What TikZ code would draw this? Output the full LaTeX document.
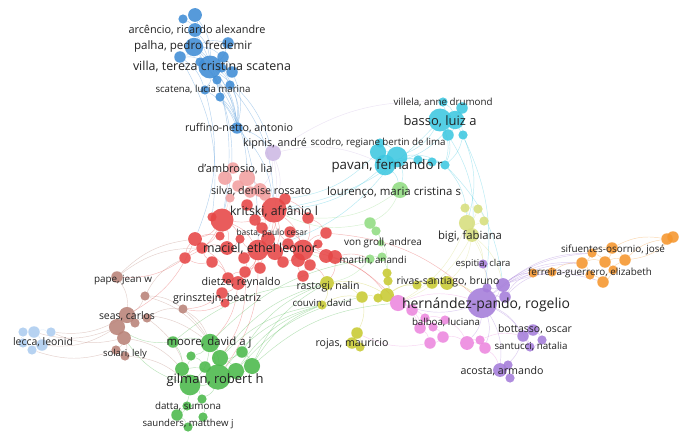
\documentclass[tikz,border=0pt]{standalone}
\usepackage{fontspec}
\setmainfont{Open Sans}
\pgfdeclarelayer{bg}
\pgfdeclarelayer{edges}
\pgfsetlayers{bg,edges,main}
\definecolor{cblue}{RGB}{63,141,214}
\definecolor{ckip}{RGB}{205,185,228}
\definecolor{ccyan}{RGB}{62,200,225}
\definecolor{clgreen}{RGB}{145,220,130}
\definecolor{cred}{RGB}{230,70,70}
\definecolor{csalmon}{RGB}{242,160,160}
\definecolor{cbrown}{RGB}{185,130,120}
\definecolor{clblue}{RGB}{172,204,240}
\definecolor{cgreen}{RGB}{75,185,75}
\definecolor{clyellow}{RGB}{215,222,125}
\definecolor{colive}{RGB}{200,202,50}
\definecolor{cpurple}{RGB}{165,125,218}
\definecolor{cpink}{RGB}{236,135,222}
\definecolor{corange}{RGB}{245,150,45}
\definecolor{ctext}{RGB}{35,35,35}
\tikzset{
  vn/.style={circle,draw=none,inner sep=0pt,fill opacity=0.88},
  edge/.style={line width=0.45pt,draw opacity=0.38},
  labtext/.style={text=ctext,inner sep=0pt,anchor=center}
}
\newsavebox\labbox
\newcommand\fitlab[2]{%
  \sbox\labbox{\fontsize{10}{12}\selectfont #2}%
  \pgfmathsetmacro\labfs{10*#1/\the\wd\labbox}%
  \fontsize{\labfs}{\labfs}\selectfont #2}
\newcommand\vlab[5]{%
  \node[labtext] (#1) at (#2,#3) {\fitlab{#4}{#5}};}
\begin{document}
\begin{tikzpicture}[x=1pt,y=-1pt]
\begin{pgfonlayer}{bg}
\fill[white] (0,0) rectangle (685,441);
\end{pgfonlayer}
\useasboundingbox (0,0) rectangle (685,441);
% ---------- nodes ----------
\foreach \n/\x/\y/\r in {b1/195/15/6,b2/183/19/4,b3/195/30/6,b4/194/47/8,b5/228/43/5,b6/180/57/5,b7/223/57/5,b8/210/67/10,b9/232/72/5,b10/217/80/4,b11/230/85/4,b12/205/90/4,b13/220/97/4,b14/237/128/5,b15/200/62/4,b16/222/68/4}
  \node[vn,fill=cblue,minimum size={2.3pt*\r}] (\n) at (\x,\y) {};
\node[vn,fill=ckip,minimum size=16pt] (k1) at (273,153) {};
\foreach \n/\x/\y/\r in {c1/443/102/4,c2/462/108/5,c3/440/120/10,c4/455/120/8,c5/448/135/5,c6/463/135/4,c7/378/152/7,c8/397/157/9,c9/385/165/9,c10/418/160/4,c11/432/162/4,c12/445/165/4,c13/380/143/4}
  \node[vn,fill=ccyan,minimum size={2.3pt*\r}] (\n) at (\x,\y) {};
\foreach \n/\x/\y/\r in {lg1/400/190/7,lg2/370/223/5,lg3/376/231/4,lg4/370/259/4,lg5/382/257/4,lg6/381/243/3}
  \node[vn,fill=clgreen,minimum size={2.3pt*\r}] (\n) at (\x,\y) {};
\foreach \n/\x/\y/\r in {s1/233/168/5,s2/247/178/7,s3/225/178/6,s4/238/186/5,s5/260/190/6,s6/230/198/4,s7/265/195/5,s8/250/192/5}
  \node[vn,fill=csalmon,minimum size={2.3pt*\r}] (\n) at (\x,\y) {};
\foreach \n/\x/\y/\r in {r1/274/210/11,r2/222/220/10,r3/247/205/5,r4/285/199/5,r5/212/217/4,r6/255/220/5,r7/308/218/5,r8/220/236/4,r9/240/239/4,r10/195/239/6,r11/268/239/6,r12/326/233/5,r13/202/248/5,r14/258/250/9,r15/275/252/7,r16/303/250/9,r17/185/258/5,r18/227/248/6,r19/283/262/5,r20/298/260/6,r21/310/265/5,r22/326/256/6,r23/335/257/6,r24/245/272/5,r25/260/268/5,r26/303/276/5,r27/228/278/5,r28/238/283/6,r29/222/293/5,r30/225/303/4,r32/290/232/5,r33/262/228/5,r34/212/262/5,r35/288/244/5,r36/244/258/5,r37/318/244/4}
  \node[vn,fill=cred,minimum size={2.3pt*\r}] (\n) at (\x,\y) {};
\foreach \n/\x/\y/\r in {br1/117/277/5,br2/145/296/4,br3/183/309/4,br4/127/315/7,br5/117/327/7,br6/135/323/4,br7/147/318/4,br8/124/338/6,br9/125/356/4,br10/116/350/4}
  \node[vn,fill=cbrown,minimum size={2.3pt*\r}] (\n) at (\x,\y) {};
\foreach \n/\x/\y/\r in {lb1/23/332/4,lb2/34/332/5,lb3/51/332/4,lb4/32/350/4,lb5/42/345/5,lb6/23/343/4}
  \node[vn,fill=clblue,minimum size={2.3pt*\r}] (\n) at (\x,\y) {};
\foreach \n/\x/\y/\r in {gr1/173/342/5,gr2/210/343/8,gr3/191/356/4,gr4/220/358/7,gr5/242/352/5,gr6/205/367/5,gr7/182/369/6,gr8/236/371/7,gr9/252/366/7,gr10/218/377/11,gr11/190/385/9,gr12/202/399/4,gr13/187/406/4,gr14/177/415/5,gr15/203/417/4,gr16/188/427/4}
  \node[vn,fill=cgreen,minimum size={2.3pt*\r}] (\n) at (\x,\y) {};
\foreach \n/\x/\y/\r in {ly1/465/208/4,ly2/478/209/4,ly3/484/221/4,ly4/467/223/7,ly5/472/235/6}
  \node[vn,fill=clyellow,minimum size={2.3pt*\r}] (\n) at (\x,\y) {};
\foreach \n/\x/\y/\r in {o1/387/273/4,o2/388/281/4,o3/327/283/6,o4/362/297/5,o5/378/298/4,o6/387/295/6,o7/417/285/4,o8/432/283/5,o9/447/283/6,o10/322/305/4,o11/357/333/5,o12/352/343/5,o13/360/347/4}
  \node[vn,fill=colive,minimum size={2.3pt*\r}] (\n) at (\x,\y) {};
\foreach \n/\x/\y/\r in {m1/398/303/7,m2/412/310/5,m3/420/328/5,m4/433/327/4,m5/445/320/4,m6/443/337/5,m7/430/343/5,m8/467/343/6,m9/480/340/4,m10/485/348/5,m11/425/318/4}
  \node[vn,fill=cpink,minimum size={2.3pt*\r}] (\n) at (\x,\y) {};
\foreach \n/\x/\y/\r in {p1/483/264/4,p2/503/285/6,p3/482/303/13,p4/505/297/5,p5/487/288/4,p6/523/336/5,p7/533/330/5,p8/542/340/4,p9/530/347/4,p10/500/370/6,p11/508/365/4,p12/510/378/4}
  \node[vn,fill=cpurple,minimum size={2.3pt*\r}] (\n) at (\x,\y) {};
\foreach \n/\x/\y/\r in {or1/667/239/5,or2/673/237/5,or3/592/253/4,or4/612/248/5,or5/582/263/5,or6/605/262/5,or7/625/260/5,or8/613/270/4,or9/552/272/4,or10/533/273/4,or11/590/275/4,or12/603/282/5}
  \node[vn,fill=corange,minimum size={2.3pt*\r}] (\n) at (\x,\y) {};
% ---------- edges ----------
\begin{pgfonlayer}{edges}
\foreach \a/\b in {b1/b3,b2/b3,b3/b4,b4/b8,b5/b8,b6/b8,b7/b8,b8/b9,b8/b10,b8/b11,b8/b12,b8/b13,b4/b5,b4/b7,b4/b6,b3/b8,b1/b8,b12/b14,b13/b14,b8/b14,b10/b14,b11/b14,b4/b14,b9/b14,b6/b12,b7/b9,b14/r1,b8/r2,b12/r10,b4/r14,b13/s2,b14/k1,b8/k1,b11/r1,b3/r2,b6/r5,b15/b8,b16/b14,b15/b13}
  \draw[edge,cblue] (\a) to[bend left=18] (\b);
\foreach \a/\b in {k1/r1,k1/s5,k1/r14,k1/c1,k1/c9}
  \draw[edge,ckip] (\a) to[bend left=18] (\b);
\foreach \a/\b in {c1/c3,c2/c3,c3/c4,c4/c5,c4/c6,c3/c5,c2/c4,c1/c4,c7/c8,c8/c9,c7/c9,c9/c10,c10/c11,c11/c12,c8/c12,c13/c8,c13/c9,c3/c8,c4/c9,c5/c12,c6/c12,c3/c12,c9/c12,c9/r1,c8/r14,c4/p3,c6/ly4,c5/ly5,c12/p2,c12/ly4,c9/lg1,c8/lg1,c3/r1,c7/r4}
  \draw[edge,ccyan] (\a) to[bend left=18] (\b);
\foreach \a/\b in {lg1/lg2,lg2/lg3,lg3/lg6,lg6/lg5,lg4/lg5,lg2/r1,lg4/r16,lg5/o6,lg3/o1,lg4/o3,lg1/r7}
  \draw[edge,clgreen] (\a) to[bend left=18] (\b);
\foreach \a/\b in {s1/s2,s1/s3,s2/s4,s3/s4,s4/s5,s2/s5,s5/s7,s4/s6,s6/r2,s7/r1,s8/r1,s2/r1,s3/r2,s5/r14,s8/s4}
  \draw[edge,csalmon] (\a) to[bend left=18] (\b);
\foreach \a/\b in {r1/r2,r1/r3,r1/r4,r1/r6,r1/r7,r1/r11,r1/r14,r1/r15,r1/r16,r2/r5,r2/r8,r2/r10,r2/r13,r2/r14,r2/r9,r14/r15,r14/r16,r14/r11,r14/r9,r14/r18,r14/r24,r14/r25,r15/r16,r16/r12,r16/r22,r16/r23,r16/r20,r16/r21,r16/r19,r14/r28,r28/r29,r29/r30,r27/r28,r17/r13,r17/r10,r13/r18,r10/r8,r9/r18,r11/r33,r32/r16,r7/r12,r7/r16,r26/r20,r26/r21,r24/r25,r27/r24,r3/r6,r4/r7,r2/r18,r19/r15,r22/r23,r17/br1,r29/br3,r30/br3,r28/gr2,r14/gr10,r23/o3,r22/o6,r16/m1,r12/p3,r23/lg4,r21/o3,r24/gr4,r10/br4,r2/r17,r13/r27,r34/r13,r34/r27,r35/r16,r35/r1,r36/r14,r36/r24,r37/r16,r37/r12,r34/r17}
  \draw[edge,cred] (\a) to[bend left=18] (\b);
\foreach \a/\b in {br1/br4,br2/br4,br4/br5,br5/br8,br8/br9,br9/br10,br4/br6,br6/br7,br5/br6,br7/br3,br2/br3,br8/br10,br5/lb2,br4/lb3,br5/lb5,br8/lb3,br3/gr10,br3/gr2,br4/gr2,br7/gr11,br8/gr7,br2/r17,br1/r13,br9/gr11,br10/lb4,br2/gr2,br1/r10}
  \draw[edge,cbrown] (\a) to[bend left=18] (\b);
\foreach \a/\b in {lb1/lb2,lb2/lb3,lb2/lb5,lb4/lb5,lb6/lb1,lb6/lb4,lb3/lb5}
  \draw[edge,clblue] (\a) to[bend left=18] (\b);
\foreach \a/\b in {gr1/gr2,gr2/gr4,gr2/gr3,gr3/gr6,gr4/gr10,gr5/gr9,gr5/gr4,gr6/gr10,gr7/gr11,gr8/gr10,gr9/gr10,gr10/gr11,gr11/gr12,gr12/gr13,gr13/gr14,gr14/gr16,gr15/gr16,gr12/gr15,gr10/gr12,gr1/gr7,gr2/gr10,gr7/gr10,gr8/gr9,gr4/gr8,gr3/gr7,gr11/gr14,gr2/gr11,gr9/o10,gr9/o3,gr5/o3,gr8/o4,gr10/o10,gr4/o3,gr2/lg4,gr9/m1,gr1/br5,gr11/br8,gr1/o3,gr8/o10,gr4/o10}
  \draw[edge,cgreen] (\a) to[bend left=18] (\b);
\foreach \a/\b in {ly1/ly4,ly2/ly4,ly3/ly4,ly4/ly5,ly1/ly2,ly2/ly3,ly5/p2,ly5/p3,ly5/o9,ly4/m1,ly5/m1,ly5/p1}
  \draw[edge,clyellow] (\a) to[bend left=18] (\b);
\foreach \a/\b in {o1/o2,o2/o6,o5/o6,o4/o5,o3/o4,o3/o10,o6/o7,o7/o8,o8/o9,o9/p3,o6/m1,o4/o11,o11/o12,o12/o13,o11/o13,o10/o4,o6/o8,o3/o6}
  \draw[edge,colive] (\a) to[bend left=18] (\b);
\foreach \a/\b in {p1/p3,p2/p3,p3/p4,p3/p5,p2/p5,p3/p6,p6/p7,p7/p8,p6/p9,p8/p9,p3/p10,p10/p11,p10/p12,p11/p12,p6/p10,p3/p9,p2/or10,p2/or5,p4/or9,p2/or12,p3/or3,p3/m8,p3/m1,p3/m10,p3/or5,p4/or10,p2/or3,p2/or11}
  \draw[edge,cpurple] (\a) to[bend left=18] (\b);
\foreach \a/\b in {m1/m2,m2/m3,m2/m11,m11/m5,m3/m4,m4/m6,m6/m7,m3/m7,m6/m8,m8/m9,m9/m10,m8/m10,m5/m8,m1/m3,m1/p3,m10/p10,m9/p6,m7/o11}
  \draw[edge,cpink] (\a) to[bend left=18] (\b);
\foreach \a/\b in {or1/or2,or3/or4,or3/or5,or4/or6,or4/or7,or5/or6,or6/or7,or6/or8,or8/or12,or11/or12,or5/or11,or7/or1,or4/or1,or2/or7,or10/or9,or9/or5,or3/or6,or12/or7}
  \draw[edge,corange] (\a) to[bend left=18] (\b);
\end{pgfonlayer}
% ---------- labels ----------
\vlab{L1}{197}{30}{137}{arcêncio, ricardo alexandre}
\vlab{L2}{193}{46}{118}{palha, pedro fredemir}
\vlab{L3}{212}{67}{158}{villa, tereza cristina scatena}
\vlab{L4}{203}{89}{95}{scatena, lucia marina}
\vlab{L5}{239}{128}{108}{ruffino-netto, antonio}
\vlab{L6}{275}{144}{64}{kipnis, andré}
\vlab{L7}{378}{143}{135}{scodro, regiane bertin de lima}
\vlab{L8}{443}{102}{99}{villela, anne drumond}
\vlab{L9}{440}{121}{73}{basso, luiz a}
\vlab{L10}{387}{166}{111}{pavan, fernando r}
\vlab{L11}{394}{193}{134}{lourenço, maria cristina s}
\vlab{L12}{235}{169}{75}{d'ambrosio, lia}
\vlab{L13}{261}{191}{100}{silva, denise rossato}
\vlab{L14}{274}{212}{88}{kritski, afrânio l}
\vlab{L15}{272}{233}{71}{basta, paulo cesar}
\vlab{L16}{260}{249}{114}{maciel, ethel leonor}
\vlab{L17}{241}{283}{79}{dietze, reynaldo}
\vlab{L18}{217}{299}{88}{grinsztejn, beatriz}
\vlab{L19}{123}{280}{58}{pape, jean w}
\vlab{L20}{127}{316}{56}{seas, carlos}
\vlab{L21}{125}{354}{44}{solari, lely}
\vlab{L22}{43}{342}{60}{lecca, leonid}
\vlab{L23}{209}{343}{85}{moore, david a j}
\vlab{L24}{215}{380}{97}{gilman, robert h}
\vlab{L25}{188}{406}{66}{datta, sumona}
\vlab{L26}{188}{424}{91}{saunders, matthew j}
\vlab{L27}{383}{243}{78}{von groll, andrea}
\vlab{L28}{373}{260}{67}{martin, anandi}
\vlab{L29}{328}{287}{63}{rastogi, nalin}
\vlab{L30}{322}{303}{59}{couvin, david}
\vlab{L31}{352}{344}{73}{rojas, mauricio}
\vlab{L32}{448}{282}{103}{rivas-santiago, bruno}
\vlab{L33}{470}{237}{64}{bigi, fabiana}
\vlab{L34}{483}{264}{55}{espitia, clara}
\vlab{L35}{486}{305}{168}{hernández-pando, rogelio}
\vlab{L36}{446}{322}{68}{balboa, luciana}
\vlab{L37}{535}{329}{74}{bottasso, oscar}
\vlab{L38}{531}{346}{73}{santucci, natalia}
\vlab{L39}{502}{371}{83}{acosta, armando}
\vlab{L40}{613}{250}{104}{sifuentes-osornio, josé}
\vlab{L41}{590}{273}{124}{ferreira-guerrero, elizabeth}
\end{tikzpicture}
\end{document}
